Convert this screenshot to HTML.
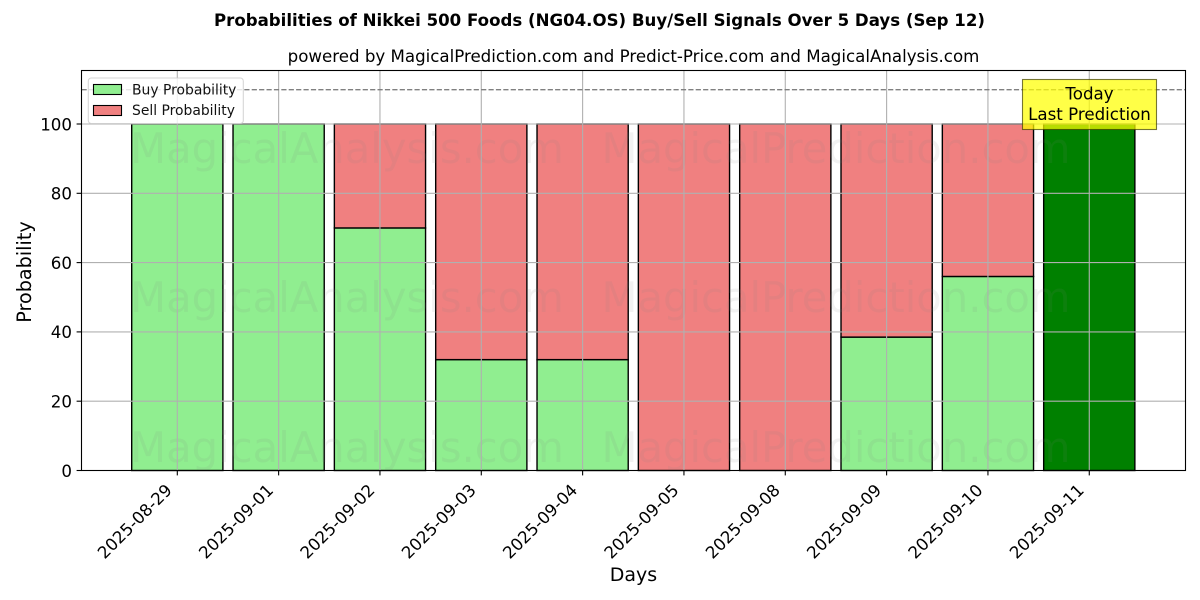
<!DOCTYPE html>
<html>
<head>
<meta charset="utf-8">
<title>Probabilities of Nikkei 500 Foods (NG04.OS) Buy/Sell Signals</title>
<style>
html,body{margin:0;padding:0;background:#fff;width:1200px;height:600px;overflow:hidden}
svg{display:block;font-family:"DejaVu Sans","Liberation Sans",sans-serif}
</style>
</head>
<body>
<svg id="chart" width="1200" height="600" viewBox="0 0 1200 600" xmlns="http://www.w3.org/2000/svg">
<text x="599.5" y="26" text-anchor="middle" font-size="16.6" font-weight="bold">Probabilities of Nikkei 500 Foods (NG04.OS) Buy/Sell Signals Over 5 Days (Sep 12)</text>
<text x="633.5" y="62" text-anchor="middle" font-size="16.65">powered by MagicalPrediction.com and Predict-Price.com and MagicalAnalysis.com</text>
<rect x="81.5" y="70.5" width="1104" height="400" fill="#fff"/>
<g id="bars"></g>
<g id="watermarks"></g>
<g id="grid"></g>
<g id="axes"></g>
<line x1="81.5" x2="1185.5" y1="89.7" y2="89.7" stroke="#808080" stroke-width="1.4" stroke-dasharray="5.2,2.2"/>
<rect x="81.5" y="70.5" width="1104" height="400" fill="none" stroke="#000" stroke-width="1.1"/>
<g>
<rect x="88.3" y="78" width="155" height="45.5" rx="3" fill="#fff" fill-opacity="0.8" stroke="#ccc" stroke-opacity="0.8" stroke-width="1.1"/>
<rect x="93.5" y="84.5" width="28" height="10" fill="#90EE90" stroke="#000" stroke-width="1.1"/>
<text x="132" y="94.5" font-size="13.9" fill="#111">Buy Probability</text>
<rect x="93.5" y="105.5" width="28" height="10" fill="#F08080" stroke="#000" stroke-width="1.1"/>
<text x="132" y="115" font-size="13.9" fill="#111">Sell Probability</text>
</g>
<g>
<rect x="1022.5" y="79.5" width="134" height="50" fill="#ffff00" fill-opacity="0.72" stroke="#3c3c00" stroke-opacity="0.7" stroke-width="1.1"/>
<text x="1089.5" y="99.5" text-anchor="middle" font-size="16.67">Today</text>
<text x="1089.5" y="120" text-anchor="middle" font-size="16.67">Last Prediction</text>
</g>
<text x="633.5" y="581" text-anchor="middle" font-size="19">Days</text>
<text x="0" y="0" transform="translate(31,272) rotate(-90)" text-anchor="middle" font-size="19.2">Probability</text>
</svg>
<script>
const categories = ['2025-08-29','2025-09-01','2025-09-02','2025-09-03','2025-09-04','2025-09-05','2025-09-08','2025-09-09','2025-09-10','2025-09-11'];
const buyValues = [100,100,70,32,32,0,0,38.5,56,100];
const sellValues = [0,0,30,68,68,100,100,61.5,44,0];
const lastPredictionIndex = 9;
const yTicks = [0,20,40,60,80,100];
const watermarkText = ['MagicalAnalysis.com','MagicalPrediction.com'];

const NS = 'http://www.w3.org/2000/svg';
const xOf = i => 177.3 + i * 101.33;
const yOf = v => 470.5 - v * 3.465;
const barW = 0.9 * 101.33;

function mk(parent, tag, attrs, text) {
  const el = document.createElementNS(NS, tag);
  for (const k in attrs) el.setAttribute(k, attrs[k]);
  if (text !== undefined) el.textContent = text;
  parent.appendChild(el);
  return el;
}

const bars = document.getElementById('bars');
const grid = document.getElementById('grid');
const axes = document.getElementById('axes');
const wm = document.getElementById('watermarks');

categories.forEach((c, i) => {
  const x = xOf(i) - barW / 2;
  const buy = buyValues[i], sell = sellValues[i];
  const buyFill = i === lastPredictionIndex ? '#008000' : '#90EE90';
  const b = mk(bars, 'rect', {x: x, y: yOf(buy), width: barW, height: yOf(0) - yOf(buy), fill: buyFill, stroke: '#000', 'stroke-width': 1.4});
  
  
  const s = mk(bars, 'rect', {x: x, y: yOf(buy + sell), width: barW, height: yOf(buy) - yOf(buy + sell), fill: '#F08080', stroke: '#000', 'stroke-width': 1.4});
  
  

  const g = mk(grid, 'line', {x1: xOf(i), x2: xOf(i), y1: 70.5, y2: 470.5, stroke: '#b0b0b0', 'stroke-width': 1.1});
  
  

  const t = mk(axes, 'line', {x1: xOf(i), x2: xOf(i), y1: 470.5, y2: 475.4, stroke: '#000', 'stroke-width': 1.1});
  
  

  const l = mk(axes, 'text', {transform: 'translate(' + (xOf(i) - 12.5) + ',483) rotate(-45)', 'text-anchor': 'end', 'font-size': 16.67, dy: '0.7em'}, c);
  
  
});

yTicks.forEach(v => {
  const g = mk(grid, 'line', {x1: 81.5, x2: 1185.5, y1: yOf(v), y2: yOf(v), stroke: '#b0b0b0', 'stroke-width': 1.1});
  
  
  const t = mk(axes, 'line', {x1: 76.6, x2: 81.5, y1: yOf(v), y2: yOf(v), stroke: '#000', 'stroke-width': 1.1});
  
  
  const l = mk(axes, 'text', {x: 72, y: yOf(v) + 6.3, 'text-anchor': 'end', 'font-size': 16.67}, String(v));
  
  
});

[163, 312, 462].forEach(y => {
  watermarkText.forEach((w, k) => {
    const el = mk(wm, 'text', {x: k === 0 ? 347 : 836, y: y, 'text-anchor': 'middle', 'font-size': 41.7, fill: '#808080', 'fill-opacity': 0.1}, w);
    
    
  });
});
</script>
</body>
</html>
